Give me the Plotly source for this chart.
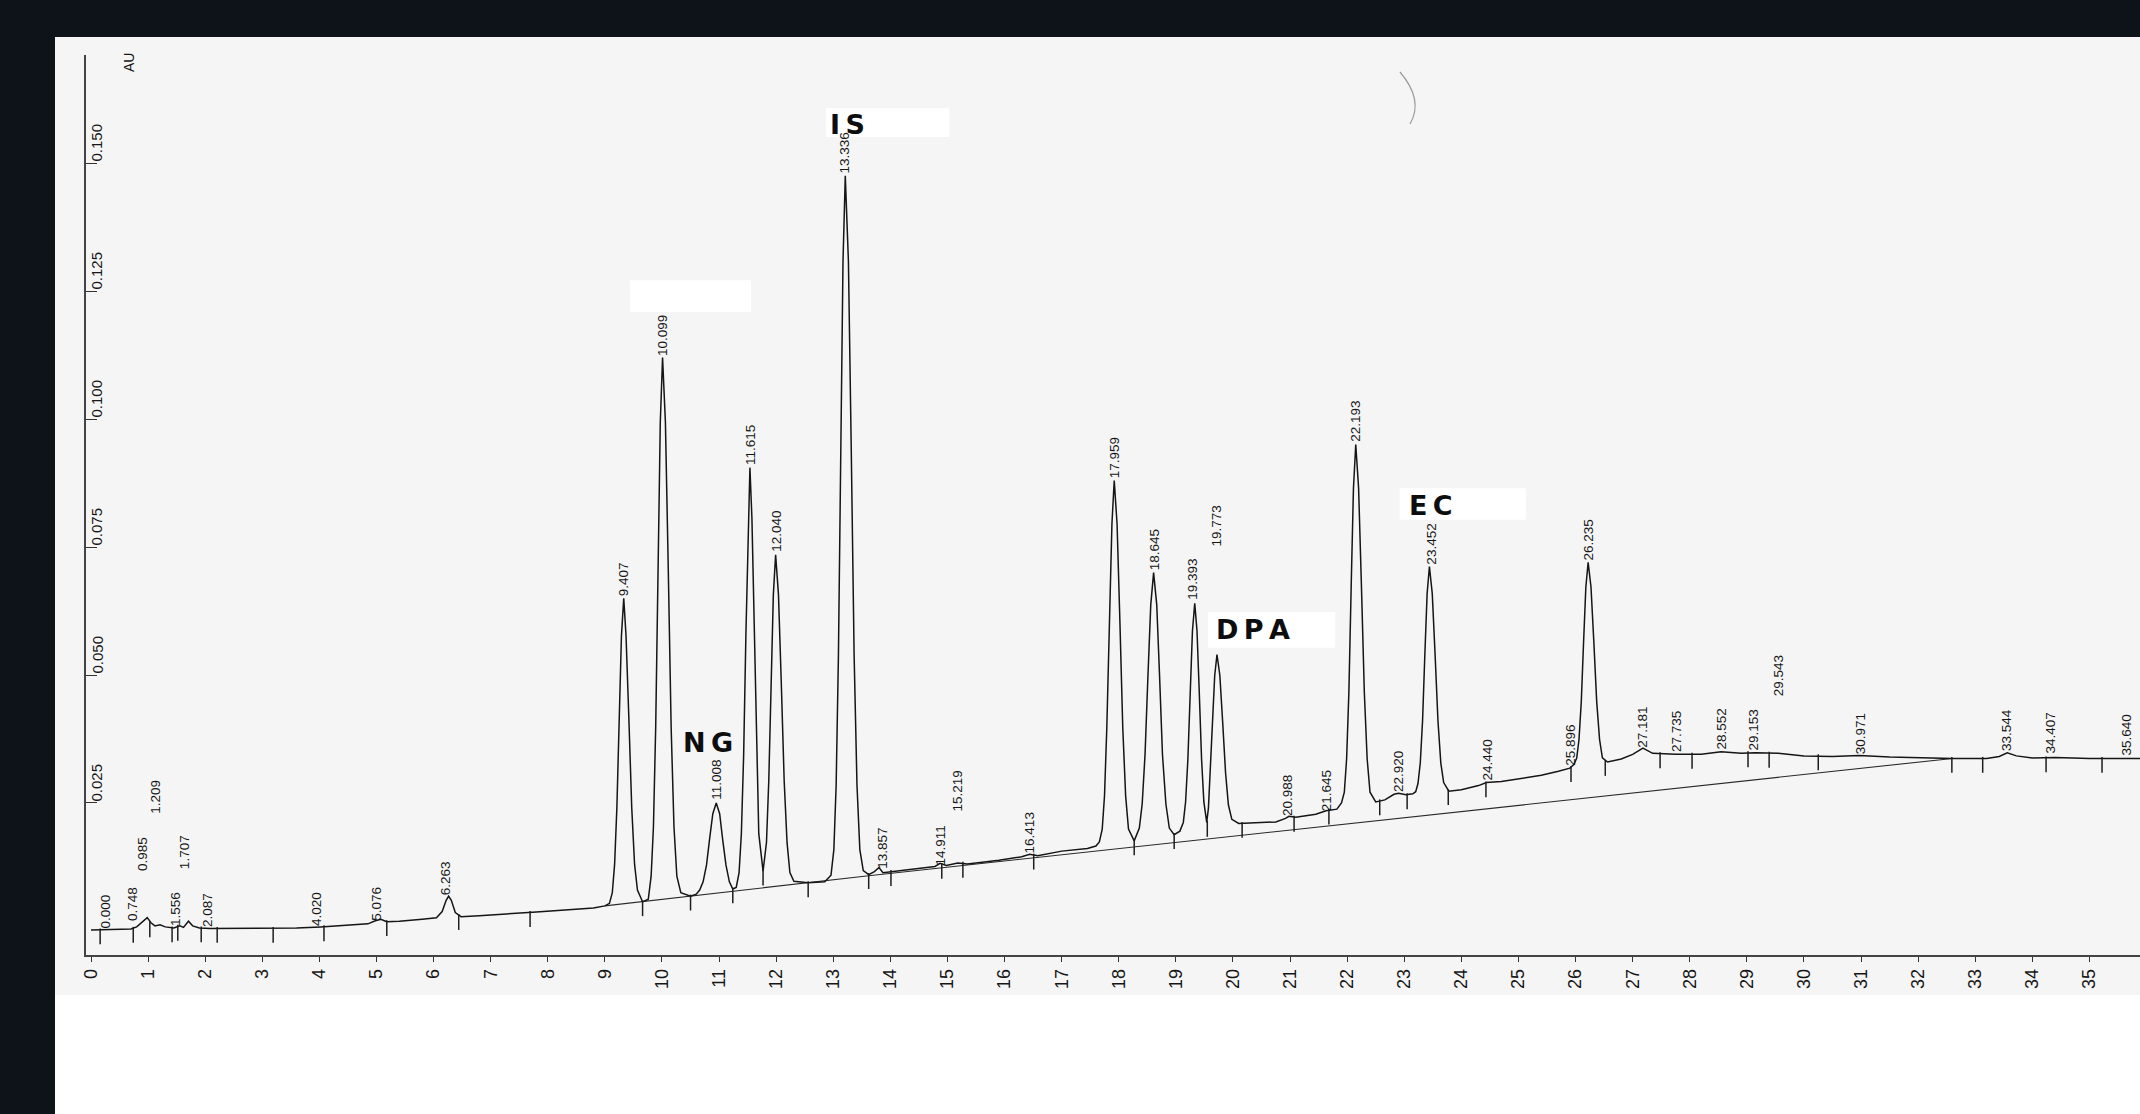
import plotly.graph_objects as go

# ---------------- data ----------------
# x tick labels (minutes)
X_TICKS = list(range(0, 36))
# y tick values (AU)
Y_TICKS = [0.025, 0.050, 0.075, 0.100, 0.125, 0.150]
Y_TICK_TEXT = ["0.025", "0.050", "0.075", "0.100", "0.125", "0.150"]

# detector trace: retention time (min) and absorbance (AU)
TIME_MIN = [
    0.00, 0.40, 0.70, 0.80, 0.90, 0.985, 1.05, 1.12, 1.209, 1.30, 1.45, 1.556, 1.62, 1.707, 1.78, 1.90, 2.087,
    2.60, 3.20, 3.60, 4.02, 4.50, 4.85, 4.98, 5.076, 5.18, 5.40, 5.80, 6.05, 6.15, 6.22, 6.263, 6.31, 6.38,
    6.48, 6.80, 7.30, 7.80, 8.30, 8.80, 9.00,
    9.08, 9.13, 9.17, 9.21, 9.25, 9.29, 9.33, 9.37, 9.42, 9.47, 9.52, 9.57, 9.66,
    9.76, 9.81, 9.85, 9.89, 9.93, 9.97, 10.01, 10.06, 10.11, 10.16, 10.21, 10.26, 10.33, 10.50,
    10.60, 10.66, 10.72, 10.78, 10.835, 10.89, 10.95, 11.01, 11.06, 11.12, 11.18, 11.24,
    11.30, 11.35, 11.39, 11.43, 11.47, 11.51, 11.54, 11.575, 11.615, 11.655, 11.695, 11.77,
    11.83, 11.87, 11.91, 11.95, 11.99, 12.04, 12.09, 12.14, 12.19, 12.24, 12.31, 12.56, 12.85,
    12.96, 13.01, 13.05, 13.09, 13.13, 13.17, 13.21, 13.265, 13.315, 13.365, 13.415, 13.465, 13.525, 13.62,
    13.72, 13.80, 13.87, 14.01, 14.40, 14.78, 14.87, 14.98, 15.18, 15.35, 15.90, 16.30, 16.44, 16.58, 17.00,
    17.45, 17.60,
    17.66, 17.71, 17.75, 17.79, 17.835, 17.88, 17.92, 17.97, 18.02, 18.07, 18.12, 18.17, 18.27,
    18.36, 18.41, 18.46, 18.51, 18.56, 18.61, 18.665, 18.715, 18.765, 18.825, 18.885, 18.97, 19.07,
    19.13, 19.17, 19.21, 19.25, 19.29, 19.33, 19.37, 19.41, 19.45, 19.49, 19.54,
    19.57, 19.60, 19.64, 19.68, 19.72, 19.77, 19.82, 19.87, 19.92, 19.98, 20.10, 20.40, 20.75, 20.92, 20.98,
    21.10, 21.45, 21.63, 21.82, 21.90,
    21.95, 21.99, 22.03, 22.07, 22.11, 22.15, 22.20, 22.25, 22.30, 22.35, 22.40, 22.50, 22.66, 22.82, 22.90,
    23.03, 23.15,
    23.20, 23.24, 23.28, 23.32, 23.36, 23.40, 23.44, 23.49, 23.54, 23.59, 23.64, 23.69, 23.78, 24.00, 24.30,
    24.44, 24.70, 25.00, 25.40, 25.70, 25.90, 25.97,
    26.02, 26.06, 26.10, 26.14, 26.18, 26.22, 26.27, 26.32, 26.37, 26.42, 26.47, 26.56, 26.80, 27.00, 27.18,
    27.35, 27.75, 28.20, 28.55, 28.90, 29.15, 29.55, 30.00, 30.50, 30.97, 31.50, 32.00, 32.60, 33.20, 33.42,
    33.56, 33.72, 34.00, 34.40, 35.00, 35.64, 36.00,
]
ABS_AU = [
    0.0002, 0.0003, 0.0004, 0.0008, 0.0018, 0.0026, 0.0016, 0.0010, 0.0012, 0.0008, 0.0006, 0.0010, 0.0007, 0.0019, 0.0010, 0.0006, 0.0005,
    0.0005, 0.0005, 0.0006, 0.0008, 0.0011, 0.0014, 0.0020, 0.0023, 0.0018, 0.0019, 0.0023, 0.0026, 0.0038, 0.0060, 0.0068, 0.0060, 0.0036,
    0.0028, 0.0030, 0.0033, 0.0037, 0.0041, 0.0045, 0.0049,
    0.0054, 0.0075, 0.0130, 0.0241, 0.0415, 0.0577, 0.0650, 0.0577, 0.0415, 0.0241, 0.0130, 0.0080, 0.0057,
    0.0062, 0.0107, 0.0203, 0.0399, 0.0707, 0.0993, 0.1120, 0.0993, 0.0707, 0.0399, 0.0203, 0.0107, 0.0075, 0.0068,
    0.0072, 0.0080, 0.0096, 0.0129, 0.0181, 0.0229, 0.0250, 0.0229, 0.0181, 0.0129, 0.0096, 0.0082,
    0.0085, 0.0114, 0.0190, 0.0343, 0.0582, 0.0806, 0.0905, 0.0806, 0.0582, 0.0343, 0.0190, 0.0117,
    0.0173, 0.0293, 0.0482, 0.0657, 0.0735, 0.0657, 0.0482, 0.0293, 0.0173, 0.0114, 0.0097, 0.0094, 0.0096,
    0.0109, 0.0159, 0.0284, 0.0538, 0.0937, 0.1308, 0.1475, 0.1308, 0.0937, 0.0538, 0.0284, 0.0159, 0.0118, 0.0110,
    0.0116, 0.0124, 0.0114, 0.0116, 0.0121, 0.0126, 0.0132, 0.0128, 0.0133, 0.0131, 0.0138, 0.0145, 0.0150, 0.0147, 0.0156,
    0.0161, 0.0166,
    0.0174, 0.0199, 0.0264, 0.0396, 0.0602, 0.0795, 0.0880, 0.0795, 0.0602, 0.0396, 0.0264, 0.0199, 0.0176,
    0.0201, 0.0248, 0.0345, 0.0496, 0.0637, 0.0700, 0.0637, 0.0496, 0.0345, 0.0248, 0.0201, 0.0188, 0.0195,
    0.0212, 0.0252, 0.0335, 0.0465, 0.0586, 0.0640, 0.0586, 0.0465, 0.0335, 0.0252, 0.0212,
    0.0240, 0.0309, 0.0407, 0.0499, 0.0540, 0.0499, 0.0407, 0.0309, 0.0246, 0.0218, 0.0210, 0.0211, 0.0213, 0.0220, 0.0224,
    0.0222, 0.0228, 0.0235, 0.0238, 0.0250,
    0.0271, 0.0336, 0.0467, 0.0673, 0.0865, 0.0950, 0.0865, 0.0673, 0.0467, 0.0336, 0.0271, 0.0252, 0.0256, 0.0267, 0.0269,
    0.0266, 0.0268,
    0.0272, 0.0288, 0.0328, 0.0410, 0.0539, 0.0659, 0.0712, 0.0659, 0.0539, 0.0410, 0.0328, 0.0290, 0.0273, 0.0276, 0.0284,
    0.0290, 0.0292, 0.0297, 0.0304, 0.0312, 0.0318, 0.0325,
    0.0338, 0.0374, 0.0448, 0.0564, 0.0672, 0.0720, 0.0672, 0.0564, 0.0448, 0.0374, 0.0338, 0.0330, 0.0336, 0.0345, 0.0357,
    0.0347, 0.0345, 0.0345, 0.0350, 0.0347, 0.0348, 0.0347, 0.0342, 0.0341, 0.0343, 0.0340, 0.0338, 0.0337, 0.0337, 0.0341,
    0.0348, 0.0342, 0.0338, 0.0339, 0.0337, 0.0337, 0.0337,
]

# integration baseline drawn under the peaks
BASE_T = [9.00, 13.62, 32.60]
BASE_A = [0.0049, 0.0108, 0.0337]

# integration start/stop markers (time, trace level)
MARK_T = [0.16, 0.74, 1.03, 1.42, 1.52, 1.93, 2.21, 3.19, 4.08, 5.18, 6.44, 7.69, 9.66, 10.50, 11.24, 11.77,
          12.56, 13.62, 14.01, 14.90, 15.27, 16.51, 18.27, 18.97, 19.55, 20.16, 21.07, 21.68, 22.57, 23.05,
          23.77, 24.43, 25.92, 26.52, 27.48, 28.04, 29.02, 29.39, 30.25, 32.59, 33.13, 34.24, 35.22]
MARK_A = [0.0002, 0.0005, 0.0016, 0.0006, 0.0009, 0.0006, 0.0005, 0.0005, 0.0008, 0.0018, 0.0030, 0.0036, 0.0057,
          0.0068, 0.0082, 0.0117, 0.0094, 0.0110, 0.0116, 0.0130, 0.0132, 0.0148, 0.0176, 0.0188, 0.0212, 0.0210,
          0.0222, 0.0236, 0.0254, 0.0266, 0.0274, 0.0289, 0.0319, 0.0331, 0.0346, 0.0345, 0.0348, 0.0347, 0.0342,
          0.0337, 0.0337, 0.0338, 0.0337]

# retention-time labels: text, position (min), level of the label foot (AU)
PEAK_TEXT = ["0.000", "0.748", "0.985", "1.209", "1.556", "1.707", "2.087", "4.020", "5.076", "6.263",
             "9.407", "10.099", "11.008", "11.615", "12.040", "13.336", "13.857", "14.911", "15.219", "16.413",
             "17.959", "18.645", "19.393", "19.773", "20.988", "21.645", "22.193", "22.920", "23.452", "24.440",
             "25.896", "26.235", "27.181", "27.735", "28.552", "29.153", "29.543", "30.971", "33.544", "34.407",
             "35.640"]
PEAK_T = [0.245, 0.74, 0.89, 1.14, 1.49, 1.63, 2.05, 3.96, 5.01, 6.20,
          9.32, 10.00, 10.96, 11.54, 12.00, 13.20, 13.85, 14.87, 15.18, 16.44,
          17.93, 18.63, 19.30, 19.72, 20.96, 21.63, 22.14, 22.91, 23.48, 24.45,
          25.92, 26.23, 27.18, 27.78, 28.55, 29.11, 29.56, 30.98, 33.56, 34.31,
          35.64]
PEAK_A = [0.0003, 0.0018, 0.0115, 0.0227, 0.0008, 0.0119, 0.0006, 0.0008, 0.0018, 0.0068,
          0.0652, 0.1122, 0.0254, 0.0908, 0.0738, 0.1478, 0.0120, 0.0126, 0.0232, 0.0150,
          0.0883, 0.0703, 0.0644, 0.0750, 0.0223, 0.0231, 0.0953, 0.0269, 0.0714, 0.0291,
          0.0320, 0.0722, 0.0357, 0.0347, 0.0352, 0.0350, 0.0457, 0.0344, 0.0350, 0.0344,
          0.0340]

# ---------------- geometry / style ----------------
W, H = 2140, 1114
ML, MR, MT, MB = 86, 0, 55, 159
PW, PH = W - ML - MR, H - MT - MB
X_RANGE = [-0.0876, 35.885]
Y_RANGE = [-0.00469, 0.1711]
TICK_DEPTH = 0.0028

DARK = "#0e1219"
SCAN = "#f5f5f5"
INK = "#151515"
TEXT = "#161616"
NARROW = "Liberation Sans Narrow, Arial Narrow, Liberation Sans, Arial, sans-serif"
BOLD = "DejaVu Sans, Noto Sans, sans-serif"
THIN = "\u2009"


def px_x(p):
    return (p - ML) / PW


def px_y(p):
    return (H - MB - p) / PH


fig = go.Figure()

fig.add_trace(go.Scatter(x=BASE_T, y=BASE_A, mode="lines",
                         line=dict(color="#2a2a2a", width=1.1), hoverinfo="skip"))
fig.add_trace(go.Scatter(x=TIME_MIN, y=ABS_AU, mode="lines",
                         line=dict(color=INK, width=1.5), hoverinfo="skip"))

mx, my = [], []
for t, a in zip(MARK_T, MARK_A):
    mx += [t, t, None]
    my += [a + 0.0003, a - TICK_DEPTH, None]
fig.add_trace(go.Scatter(x=mx, y=my, mode="lines",
                         line=dict(color="#1e1e1e", width=1.5), hoverinfo="skip"))

annotations = []
for txt, t, a in zip(PEAK_TEXT, PEAK_T, PEAK_A):
    annotations.append(dict(x=t, y=a, xref="x", yref="y", text=txt, showarrow=False,
                            textangle=-90, xanchor="center", yanchor="bottom",
                            font=dict(family=NARROW, size=13.5, color=TEXT), borderpad=0))

for v, txt in zip(Y_TICKS, Y_TICK_TEXT):
    annotations.append(dict(x=0, y=v, xref="paper", yref="y", text=txt, showarrow=False,
                            textangle=-90, xanchor="left", yanchor="bottom", xshift=1,
                            font=dict(family=NARROW, size=15, color=TEXT), borderpad=0))

annotations.append(dict(x=px_x(129), y=px_y(63), xref="paper", yref="paper", text="AU",
                        showarrow=False, textangle=-90, xanchor="center", yanchor="middle",
                        font=dict(family=NARROW, size=14, color=TEXT)))

# compound names
for txt, t, a, anchor in [("IS", 12.90, 0.1576, "left"), ("NG", 10.81, 0.0369, "center"),
                          ("DPA", 19.66, 0.0588, "left"), ("EC", 23.04, 0.0832, "left")]:
    annotations.append(dict(x=t, y=a, xref="x", yref="y", text="<b>%s</b>" % THIN.join(txt),
                            showarrow=False, xanchor=anchor, yanchor="middle",
                            font=dict(family=BOLD, size=27, color="#0d0d0d")))

shapes = [
    dict(type="rect", xref="paper", yref="paper", x0=px_x(55), x1=1.01, y0=px_y(995), y1=px_y(37),
         fillcolor=SCAN, line=dict(width=0), layer="below"),
    dict(type="rect", xref="paper", yref="paper", x0=px_x(55), x1=1.01, y0=px_y(1120), y1=px_y(995),
         fillcolor="#ffffff", line=dict(width=0), layer="below"),
    # white patches pasted on the scan
    dict(type="rect", xref="x", yref="y", x0=12.87, x1=15.03, y0=0.1551, y1=0.1607,
         fillcolor="#ffffff", line=dict(width=0), layer="below"),
    dict(type="rect", xref="x", yref="y", x0=19.56, x1=21.79, y0=0.0553, y1=0.0623,
         fillcolor="#ffffff", line=dict(width=0), layer="below"),
    dict(type="rect", xref="x", yref="y", x0=22.92, x1=25.13, y0=0.0803, y1=0.0865,
         fillcolor="#ffffff", line=dict(width=0), layer="below"),
    dict(type="rect", xref="x", yref="y", x0=9.44, x1=11.56, y0=0.1209, y1=0.1271,
         fillcolor="#ffffff", line=dict(width=0), layer="below"),
    # faint arc artefact on the scan
    dict(type="path", xref="paper", yref="paper",
         path="M %.4f,%.4f Q %.4f,%.4f %.4f,%.4f" % (px_x(1400), px_y(72), px_x(1424), px_y(100),
                                                       px_x(1410), px_y(124)),
         line=dict(color="#9a9a9a", width=1.2)),
]

fig.update_layout(
    width=W, height=H,
    margin=dict(l=ML, r=MR, t=MT, b=MB, pad=0),
    paper_bgcolor=DARK, plot_bgcolor="rgba(0,0,0,0)",
    showlegend=False, hovermode=False,
    annotations=annotations, shapes=shapes,
    xaxis=dict(range=X_RANGE, tickmode="array", tickvals=X_TICKS, ticktext=[str(v) for v in X_TICKS],
               tickangle=-90, ticks="outside", ticklen=5, tickwidth=1.3, tickcolor="#333333",
               showline=True, linecolor="#444444", linewidth=1.6, showgrid=False, zeroline=False,
               tickfont=dict(family=NARROW, size=18, color=TEXT)),
    yaxis=dict(range=Y_RANGE, tickmode="array", tickvals=Y_TICKS, showticklabels=False,
               ticks="inside", ticklen=11, tickwidth=1.2, tickcolor="#333333",
               showline=True, linecolor="#444444", linewidth=1.6, showgrid=False, zeroline=False),
)

fig.write_html("out.html", config={"displayModeBar": False},
               post_script="document.body.style.margin='0';document.body.style.overflow='hidden';")
